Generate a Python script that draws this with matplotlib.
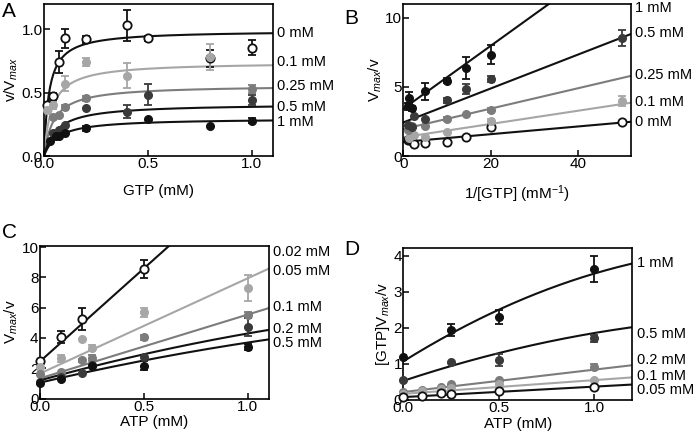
import numpy as np
import matplotlib
matplotlib.use("Agg")
import matplotlib.pyplot as plt
import matplotlib.transforms as mtransforms

plt.rcParams["font.family"] = ["Liberation Sans", "DejaVu Sans"]
plt.rcParams["mathtext.fontset"] = "custom"
plt.rcParams["mathtext.rm"] = "Liberation Sans"
plt.rcParams["mathtext.it"] = "Liberation Sans:italic"

# ---- panel A: v/Vmax vs GTP at fixed ATP ----
A_LABELS = ["0 mM", "0.1 mM", "0.25 mM", "0.5 mM", "1 mM"]
A_X = [[0.015, 0.045, 0.07, 0.1, 0.2, 0.4, 0.5, 0.8, 1.0],
       [0.015, 0.045, 0.1, 0.2, 0.4, 0.8],
       [0.045, 0.07, 0.1, 0.2, 1.0],
       [0.045, 0.07, 0.1, 0.2, 0.4, 0.5, 1.0],
       [0.03, 0.056, 0.07, 0.1, 0.2, 0.5, 0.8, 1.0]]
A_Y = [[0.40, 0.47, 0.74, 0.93, 0.92, 1.03, 0.93, 0.77, 0.855],
       [0.36, 0.40, 0.57, 0.74, 0.635, 0.78],
       [0.31, 0.32, 0.385, 0.455, 0.53],
       [0.185, 0.205, 0.245, 0.375, 0.35, 0.485, 0.445],
       [0.12, 0.155, 0.16, 0.18, 0.22, 0.295, 0.235, 0.28]]
A_ERR = [[0.03, 0.03, 0.085, 0.075, 0.03, 0.12, 0.02, 0.07, 0.06],
         [0, 0.03, 0.06, 0.03, 0.10, 0.10],
         [0, 0, 0.02, 0.02, 0.03],
         [0, 0, 0, 0, 0.05, 0.085, 0.04],
         [0, 0, 0, 0, 0.02, 0, 0, 0.02]]
A_VMAX = [0.99, 0.741, 0.559, 0.412, 0.297]
A_KM = [0.024, 0.038, 0.047, 0.062, 0.065]

# ---- panel B: Vmax/v vs 1/[GTP] ----
B_LABELS = ["0 mM", "0.1 mM", "0.25 mM", "0.5 mM", "1 mM"]
B_X = [[1, 1.25, 2, 2.5, 5, 10, 14.3, 20, 50],
       [1.25, 2.5, 5, 10, 20, 50],
       [1, 2, 5, 10, 14.3, 20],
       [1, 2, 2.5, 5, 10, 14.3, 20, 50],
       [1, 1.25, 2, 5, 10, 14.3, 20]]
B_Y = [[1.17, 1.25, 1.05, 0.9, 0.97, 1.04, 1.36, 2.13, 2.45],
       [1.3, 1.55, 1.4, 1.72, 2.5, 4.0],
       [1.9, 2.15, 2.15, 2.65, 3.05, 3.32],
       [2.25, 2.07, 2.87, 2.68, 4.03, 4.85, 5.57, 8.55],
       [3.6, 4.2, 3.45, 4.67, 5.45, 6.37, 7.33]]
B_ERR = [[0, 0, 0, 0, 0, 0, 0, 0.15, 0],
         [0, 0, 0, 0, 0.2, 0.35],
         [0, 0, 0, 0.15, 0, 0.15],
         [0, 0, 0, 0, 0.2, 0.35, 0.2, 0.6],
         [0.25, 0.4, 0.2, 0.6, 0.2, 0.8, 0.7]]
B_INTERCEPT = [1.02, 1.36, 1.95, 2.43, 3.42]
B_SLOPE = [0.028, 0.048, 0.074, 0.123, 0.228]

# ---- panel C: Vmax/v vs ATP at fixed GTP ----
C_LABELS = ["0.02 mM", "0.05 mM", "0.1 mM", "0.2 mM", "0.5 mM"]
C_X = [[0, 0.1, 0.2, 0.5],
       [0, 0.1, 0.2, 0.25, 0.5, 1.0],
       [0, 0.1, 0.2, 0.25, 0.5, 1.0],
       [0, 0.1, 0.2, 0.25, 0.5, 1.0],
       [0, 0.1, 0.25, 0.5, 1.0]]
C_Y = [[2.49, 4.04, 5.26, 8.55],
       [2.1, 2.65, 3.93, 3.35, 5.7, 7.3],
       [1.6, 1.77, 2.52, 2.65, 4.04, 5.55],
       [1.1, 1.43, 1.7, 2.2, 2.72, 4.71],
       [1.03, 1.3, 2.14, 2.16, 3.42]]
C_ERR = [[0, 0.39, 0.72, 0.59],
         [0.15, 0.25, 0, 0.2, 0.3, 0.83],
         [0, 0, 0.12, 0.2, 0.15, 0.15],
         [0, 0, 0, 0, 0, 0.6],
         [0, 0, 0, 0.3, 0.2]]
# fitted curves: a + b*x + c*x^2
C_FIT = [(2.45, 12.3, 0.0), (1.65, 6.3, 0.0), (1.33, 4.22, 0.0),
         (1.2, 3.8, -0.7), (1.05, 3.2, -0.55)]

# ---- panel D: [GTP]Vmax/v vs ATP ----
D_LABELS = ["1 mM", "0.5 mM", "0.2 mM", "0.1 mM", "0.05 mM"]
D_X = [[0, 0.25, 0.5, 1.0],
       [0, 0.25, 0.5, 1.0],
       [0, 0.1, 0.2, 0.25, 0.5, 1.0],
       [0, 0.1, 0.2, 0.25, 0.5, 1.0],
       [0, 0.1, 0.2, 0.25, 0.5, 1.0]]
D_Y = [[1.18, 1.94, 2.3, 3.62],
       [0.55, 1.05, 1.1, 1.71],
       [0.21, 0.28, 0.35, 0.44, 0.55, 0.91],
       [0.16, 0.25, 0.3, 0.33, 0.44, 0.55],
       [0.09, 0.12, 0.18, 0.16, 0.25, 0.36]]
D_ERR = [[0.07, 0.16, 0.2, 0.36],
         [0, 0, 0.17, 0.1],
         [0, 0, 0, 0, 0, 0.08],
         [0, 0, 0, 0, 0, 0],
         [0, 0, 0, 0, 0, 0]]
D_FIT = [(1.07, 3.29, -0.86), (0.53, 1.75, -0.426), (0.22, 0.62, 0.0),
         (0.17, 0.38, 0.0), (0.08, 0.29, 0.0)]

# styles
BLACK = "#111111"
LIGHT = "#a6a6a6"
MID = "#7c7c7c"
DARK = "#3a3a3a"
OPEN = "open"


def style_axes(ax, xlim, ylim, xticks, yticks, xfmt, yfmt):
    ax.set_xlim(*xlim)
    ax.set_ylim(*ylim)
    ax.set_xticks(xticks)
    ax.set_yticks(yticks)
    ax.set_xticklabels([xfmt.format(v) for v in xticks])
    ax.set_yticklabels([yfmt.format(v) for v in yticks])
    ax.tick_params(direction="in", length=4, width=1.1, labelsize=11, pad=1)
    for sp in ax.spines.values():
        sp.set_linewidth(1.2)


def draw_points(ax, xs, ys, errs, color, kind):
    xs = np.asarray(xs, float)
    ys = np.asarray(ys, float)
    errs = np.asarray(errs, float)
    m = errs > 0
    if m.any():
        ax.errorbar(xs[m], ys[m], yerr=errs[m], fmt="none", ecolor=color,
                    elinewidth=1.3, capsize=3, capthick=1.3, zorder=3)
    if kind == OPEN:
        ax.plot(xs, ys, "o", ms=6, mfc="white", mec=BLACK, mew=1.3,
                zorder=4, clip_on=False)
    else:
        ax.plot(xs, ys, "o", ms=5.5, mfc=color, mec=color, zorder=4,
                clip_on=False)


def right_labels(ax, labels, ys):
    trans = mtransforms.blended_transform_factory(ax.transAxes, ax.transData)
    for lab, y in zip(labels, ys):
        ax.annotate(lab, xy=(1.0, y), xycoords=trans, xytext=(3, 0),
                    textcoords="offset points", va="center", ha="left",
                    fontsize=10.5, annotation_clip=False)


fig = plt.figure(figsize=(6.93, 4.37), dpi=100)
axA = fig.add_axes([0.0635, 0.643, 0.330, 0.348])
axB = fig.add_axes([0.582, 0.643, 0.3286, 0.348])
axC = fig.add_axes([0.0577, 0.0881, 0.330, 0.3497])
axD = fig.add_axes([0.582, 0.0847, 0.3305, 0.347])

# A
a_line = [BLACK, LIGHT, MID, BLACK, BLACK]
a_pts = [(BLACK, OPEN), (LIGHT, "f"), (MID, "f"), (DARK, "f"), (BLACK, "f")]
xx = np.linspace(0, 1.1, 300)
for i in range(5):
    axA.plot(xx, A_VMAX[i] * xx / (A_KM[i] + xx), color=a_line[i], lw=1.5,
             zorder=2)
for i in range(5):
    draw_points(axA, A_X[i], A_Y[i], A_ERR[i], *a_pts[i])
style_axes(axA, (0, 1.1), (0, 1.2), [0, 0.5, 1.0], [0, 0.5, 1.0],
           "{:.1f}", "{:.1f}")
axA.set_xlabel("GTP (mM)", fontsize=11, labelpad=9)
axA.set_ylabel("v/V$_{\\it{max}}$", fontsize=11, labelpad=1)
right_labels(axA, A_LABELS, [0.97, 0.745, 0.55, 0.39, 0.265])

# B
b_line = [BLACK, LIGHT, MID, BLACK, BLACK]
b_pts = [(BLACK, OPEN), (LIGHT, "f"), (MID, "f"), (DARK, "f"), (BLACK, "f")]
xx = np.linspace(0, 52, 50)
for i in range(5):
    axB.plot(xx, B_INTERCEPT[i] + B_SLOPE[i] * xx, color=b_line[i], lw=1.5,
             zorder=2)
for i in range(5):
    draw_points(axB, B_X[i], B_Y[i], B_ERR[i], *b_pts[i])
style_axes(axB, (0, 52), (0, 11), [0, 20, 40], [0, 5, 10], "{:d}", "{:d}")
axB.set_xlabel("1/[GTP] (mM$^{-1}$)", fontsize=11, labelpad=9)
axB.set_ylabel("V$_{\\it{max}}$/v", fontsize=11, labelpad=1)
right_labels(axB, B_LABELS, [2.43, 3.89, 5.84, 8.88, 10.7])

# C
c_line = [BLACK, LIGHT, MID, BLACK, BLACK]
c_pts = [(BLACK, OPEN), (LIGHT, "f"), (MID, "f"), (DARK, "f"), (BLACK, "f")]
xx = np.linspace(0, 1.1, 200)
for i in range(5):
    a, b, c = C_FIT[i]
    axC.plot(xx, a + b * xx + c * xx ** 2, color=c_line[i], lw=1.5, zorder=2)
for i in range(5):
    draw_points(axC, C_X[i], C_Y[i], C_ERR[i], *c_pts[i])
style_axes(axC, (0, 1.1), (0, 10.1), [0, 0.5, 1.0], [0, 2, 4, 6, 8, 10],
           "{:.1f}", "{:d}")
axC.set_xlabel("ATP (mM)", fontsize=11, labelpad=1)
axC.set_ylabel("V$_{\\it{max}}$/v", fontsize=11, labelpad=1)
right_labels(axC, C_LABELS, [9.65, 8.41, 6.08, 4.6, 3.69])

# D
d_line = [BLACK, BLACK, MID, LIGHT, BLACK]
d_pts = [(BLACK, "f"), (DARK, "f"), (MID, "f"), (LIGHT, "f"), (BLACK, OPEN)]
xx = np.linspace(0, 1.2, 200)
for i in range(5):
    a, b, c = D_FIT[i]
    axD.plot(xx, a + b * xx + c * xx ** 2, color=d_line[i], lw=1.5, zorder=2)
for i in range(5):
    draw_points(axD, D_X[i], D_Y[i], D_ERR[i], *d_pts[i])
style_axes(axD, (0, 1.2), (0, 4.2), [0, 0.5, 1.0], [0, 1, 2, 3, 4],
           "{:.1f}", "{:d}")
axD.set_xlabel("ATP (mM)", fontsize=11, labelpad=1)
axD.set_ylabel("[GTP]V$_{\\it{max}}$/v", fontsize=11, labelpad=1)
right_labels(axD, D_LABELS, [3.8, 1.83, 1.1, 0.66, 0.29])

# panel letters
for lab, x, y in [("A", 0.003, 0.995), ("B", 0.497, 0.98),
                  ("C", 0.003, 0.49), ("D", 0.497, 0.45)]:
    fig.text(x, y, lab, fontsize=15, va="top", ha="left")

fig.savefig("out.png", dpi=100)
